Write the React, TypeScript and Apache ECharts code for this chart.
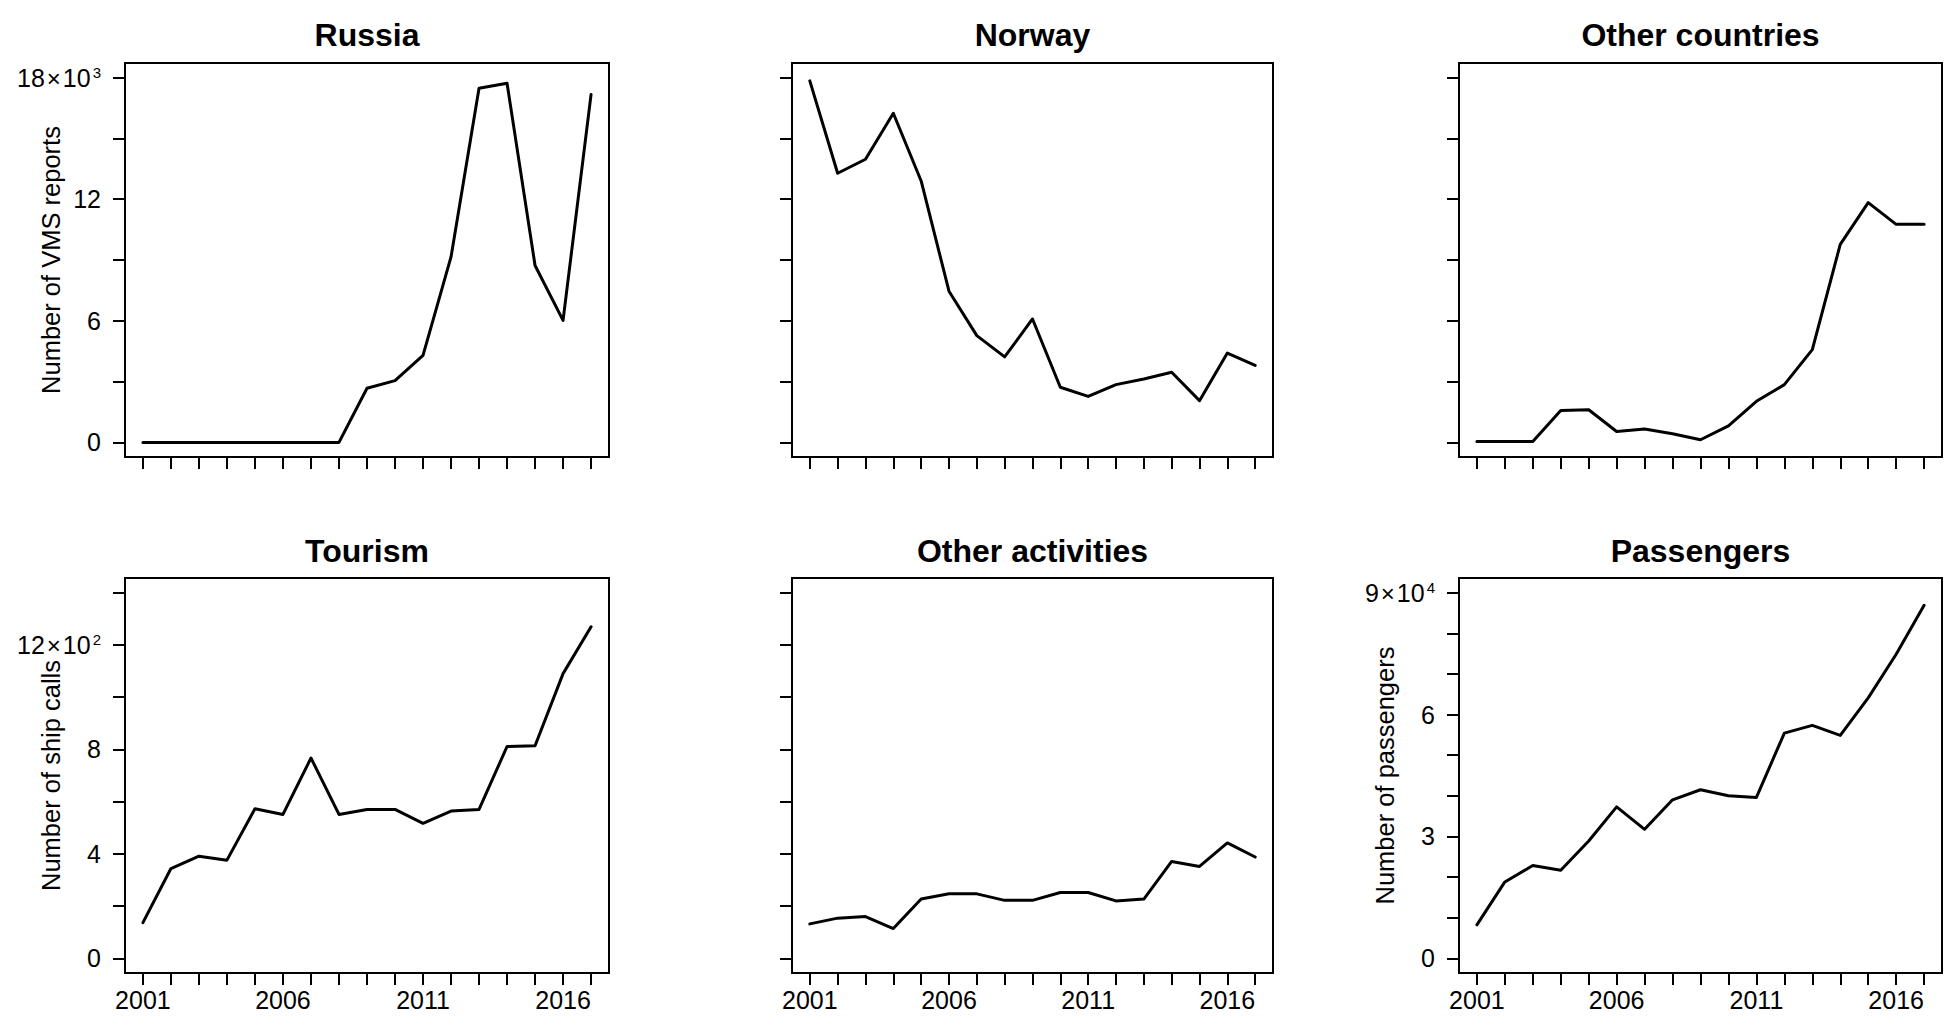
import React, { useEffect, useRef } from "react";
import * as echarts from "echarts";

// ---- data ----
const years = [2001, 2002, 2003, 2004, 2005, 2006, 2007, 2008, 2009, 2010, 2011, 2012, 2013, 2014, 2015, 2016, 2017];
const russia = [0, 0, 0, 0, 0, 0, 0, 0, 2670, 3050, 4290, 9150, 17470, 17720, 8730, 6020, 17170];
const norway = [17840, 13280, 13970, 16240, 12900, 7460, 5270, 4220, 6090, 2720, 2270, 2850, 3130, 3460, 2060, 4410, 3800];
const otherCountries = [40, 40, 40, 1580, 1610, 540, 660, 430, 130, 820, 2030, 2850, 4580, 9770, 11830, 10760, 10760];
const tourism = [137, 344, 391, 376, 573, 551, 767, 551, 570, 570, 517, 564, 570, 811, 814, 1090, 1269];
const otherActivities = [132, 154, 160, 114, 227, 247, 247, 222, 222, 252, 252, 220, 227, 371, 352, 442, 388];
const passengers = [8250, 18810, 22850, 21700, 28870, 37290, 31760, 39020, 41500, 40010, 39600, 55440, 57340, 54860, 64100, 74830, 86870];

const yearTicks = [2001, 2002, 2003, 2004, 2005, 2006, 2007, 2008, 2009, 2010, 2011, 2012, 2013, 2014, 2015, 2016, 2017];
const yearLabels = [2001, 2006, 2011, 2016];
const vmsTicks = [0, 3000, 6000, 9000, 12000, 15000, 18000];
const vmsLabels = [0, 6000, 12000, 18000];
const callTicks = [0, 200, 400, 600, 800, 1000, 1200, 1400];
const callLabels = [0, 400, 800, 1200];
const paxTicks = [0, 10000, 20000, 30000, 40000, 50000, 60000, 70000, 80000, 90000];
const paxLabels = [0, 30000, 60000, 90000];

const titles = ["Russia", "Norway", "Other countries", "Tourism", "Other activities", "Passengers"];
const yNames = ["Number of VMS reports", "", "", "Number of ship calls", "", "Number of passengers"];

// ---- layout ----
const FONT = "'Liberation Sans', Arial, Helvetica, sans-serif";
const colLeft = [125, 792, 1459];
const colWidth = [484, 481, 483];
const rowTop = [63, 578];
const rowHeight = [394, 395];
const titleTop = [19, 535];

type Panel = {
  data: number[];
  ticks: number[];
  labels: number[] | null;
  ylim: [number, number];
  exp: number;
  col: number;
  row: number;
  xLabels: boolean;
};

const panels: Panel[] = [
  { data: russia, ticks: vmsTicks, labels: vmsLabels, ylim: [0, 18000], exp: 3, col: 0, row: 0, xLabels: false },
  { data: norway, ticks: vmsTicks, labels: null, ylim: [0, 18000], exp: 3, col: 1, row: 0, xLabels: false },
  { data: otherCountries, ticks: vmsTicks, labels: null, ylim: [0, 18000], exp: 3, col: 2, row: 0, xLabels: false },
  { data: tourism, ticks: callTicks, labels: callLabels, ylim: [0, 1400], exp: 2, col: 0, row: 1, xLabels: true },
  { data: otherActivities, ticks: callTicks, labels: null, ylim: [0, 1400], exp: 2, col: 1, row: 1, xLabels: true },
  { data: passengers, ticks: paxTicks, labels: paxLabels, ylim: [0, 90000], exp: 4, col: 2, row: 1, xLabels: true },
];

const ext = (lo: number, hi: number): [number, number] => [lo - 0.04 * (hi - lo), hi + 0.04 * (hi - lo)];

export default function App() {
  const ref = useRef<HTMLDivElement>(null);
  useEffect(() => {
    if (!ref.current) return;
    const chart = echarts.init(ref.current, undefined, { renderer: "svg" });
    const [xmin, xmax] = ext(years[0], years[years.length - 1]);

    const grid = panels.map((p) => ({
      left: colLeft[p.col],
      top: rowTop[p.row],
      width: colWidth[p.col],
      height: rowHeight[p.row],
      show: true,
      borderColor: "#000",
      borderWidth: 2,
      backgroundColor: "transparent",
      containLabel: false,
      outerBoundsMode: "none",
    }));

    const xAxis = panels.map((p, i) => ({
      type: "value",
      gridIndex: i,
      position: "bottom",
      min: xmin,
      max: xmax,
      axisLine: { show: false, onZero: false },
      splitLine: { show: false },
      axisTick: {
        show: true,
        customValues: yearTicks,
        length: 12,
        lineStyle: { color: "#000", width: 2 },
      },
      axisLabel: {
        show: p.xLabels,
        customValues: yearLabels,
        margin: 14,
        fontSize: 25,
        fontFamily: FONT,
        color: "#000",
        formatter: (v: number) => String(v),
      },
    }));

    const yAxis = panels.map((p, i) => {
      const [ymin, ymax] = ext(p.ylim[0], p.ylim[1]);
      const top = p.labels ? p.labels[p.labels.length - 1] : 0;
      const div = Math.pow(10, p.exp);
      return {
        type: "value",
        gridIndex: i,
        position: "left",
        min: ymin,
        max: ymax,
        name: yNames[i],
        nameLocation: "middle",
        nameGap: 61,
        nameMoveOverlap: false,
        nameTextStyle: { fontSize: 25.5, fontFamily: FONT, color: "#000" },
        axisLine: { show: false, onZero: false },
        splitLine: { show: false },
        axisTick: {
          show: true,
          customValues: p.ticks,
          length: 12,
          lineStyle: { color: "#000", width: 2 },
        },
        axisLabel: {
          show: !!p.labels,
          customValues: p.labels || [],
          margin: 24,
          fontSize: 25,
          fontFamily: FONT,
          color: "#000",
          formatter: (v: number) => {
            const m = Math.round(v / div);
            if (v === top) return `{n|${m}}{x|×}{n|10}{s|${p.exp}}`;
            return String(m);
          },
          rich: {
            n: { fontSize: 25, lineHeight: 26, verticalAlign: "bottom", fontFamily: FONT, color: "#000" },
            x: { fontSize: 24, lineHeight: 26, verticalAlign: "bottom", fontFamily: FONT, color: "#000", padding: [0, 2, 0, 2] },
            s: { fontSize: 15, lineHeight: 15, verticalAlign: "top", fontFamily: FONT, color: "#000", padding: [0, 0, 16, 2] },
          },
        },
      };
    });

    const series = panels.map((p, i) => ({
      type: "line",
      xAxisIndex: i,
      yAxisIndex: i,
      data: years.map((y, k) => [y, p.data[k]]),
      showSymbol: false,
      symbol: "none",
      lineStyle: { color: "#000", width: 3, join: "round", cap: "round" },
      silent: true,
    }));

    const title = panels.map((p, i) => ({
      text: titles[i],
      left: colLeft[p.col] + colWidth[p.col] / 2,
      top: titleTop[p.row],
      textAlign: "center",
      padding: 0,
      textStyle: { fontSize: 32, fontWeight: "bold", fontFamily: FONT, color: "#000" },
    }));

    chart.setOption({
      animation: false,
      backgroundColor: "#fff",
      title,
      grid,
      xAxis,
      yAxis,
      series,
    } as any);
    return () => chart.dispose();
  }, []);
  return (
    <div
      ref={ref}
      style={{ position: "absolute", left: 0, top: 0, width: 1950, height: 1035, background: "#fff" }}
    />
  );
}
